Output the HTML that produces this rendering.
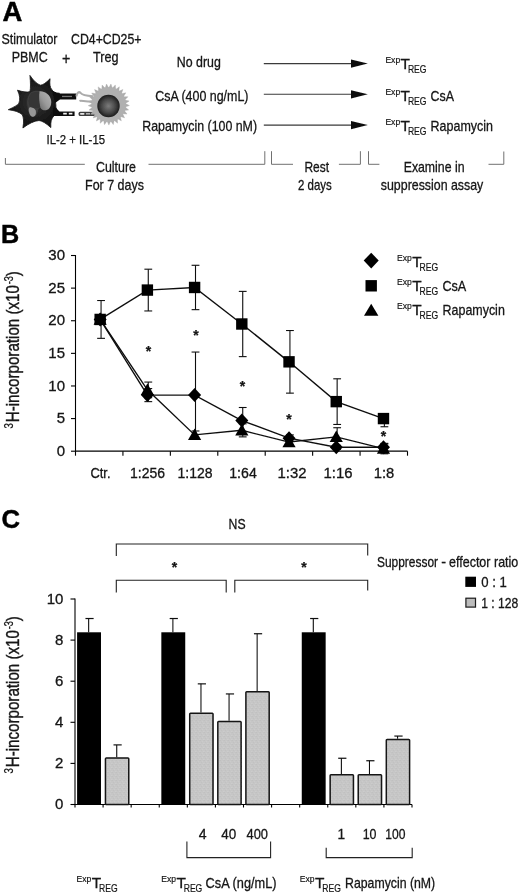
<!DOCTYPE html>
<html lang="en"><head><meta charset="utf-8"><title>Figure</title>
<style>
html,body{margin:0;padding:0;background:#fff;}
body{width:520px;height:895px;overflow:hidden;}
svg{display:block;font-family:"Liberation Sans",sans-serif;}
</style></head><body>
<svg width="520" height="895" viewBox="0 0 520 895">
<defs>
<radialGradient id="gDark" cx="0.5" cy="0.5" r="0.6">
<stop offset="0" stop-color="#343434"/><stop offset="0.55" stop-color="#1d1d1d"/><stop offset="1" stop-color="#0a0a0a"/>
</radialGradient>
<linearGradient id="gNuc" x1="1" y1="0" x2="0" y2="1">
<stop offset="0" stop-color="#b8b8b8"/><stop offset="0.55" stop-color="#9a9a9a"/><stop offset="1" stop-color="#666666"/>
</linearGradient>
<radialGradient id="gTreg" cx="0.5" cy="0.5" r="0.5">
<stop offset="0" stop-color="#7c7c7c"/><stop offset="0.6" stop-color="#484848"/><stop offset="1" stop-color="#1c1c1c"/>
</radialGradient>
<pattern id="pGray" width="4" height="4" patternUnits="userSpaceOnUse">
<rect width="4" height="4" fill="#c6c6c6"/>
<rect x="0" y="0" width="1" height="1" fill="#c0c0c0"/><rect x="2" y="1" width="1" height="1" fill="#cbcbcb"/>
<rect x="1" y="2" width="1" height="1" fill="#c1c1c1"/><rect x="3" y="3" width="1" height="1" fill="#cccccc"/>
<rect x="3" y="0" width="1" height="1" fill="#c3c3c3"/><rect x="0" y="3" width="1" height="1" fill="#c9c9c9"/>
</pattern>
<filter id="soft" x="-2%" y="-2%" width="104%" height="104%"><feGaussianBlur stdDeviation="0.35"/></filter>
</defs>
<rect width="520" height="895" fill="#fff"/>
<g filter="url(#soft)">

<text x="2.4" y="21.3" font-size="27" textLength="19.8" lengthAdjust="spacingAndGlyphs" font-weight="bold" fill="#000" stroke="#000" stroke-width="0.49">A</text>
<text x="1.5" y="44.0" font-size="15" textLength="56.0" lengthAdjust="spacingAndGlyphs" fill="#141414" stroke="#141414" stroke-width="0.3">Stimulator</text>
<text x="71.0" y="44.0" font-size="15" textLength="70.5" lengthAdjust="spacingAndGlyphs" fill="#141414" stroke="#141414" stroke-width="0.3">CD4+CD25+</text>
<text x="11.7" y="61.5" font-size="15" textLength="36.0" lengthAdjust="spacingAndGlyphs" fill="#141414" stroke="#141414" stroke-width="0.3">PBMC</text>
<text x="61.9" y="64.3" font-size="16.5" textLength="8.3" lengthAdjust="spacingAndGlyphs" fill="#141414" stroke="#141414" stroke-width="0.33">+</text>
<text x="93.0" y="61.5" font-size="15" textLength="25.5" lengthAdjust="spacingAndGlyphs" fill="#141414" stroke="#141414" stroke-width="0.3">Treg</text>
<path d="M29.90,75.40 Q35.41,83.49 40.40,85.20 Q44.08,84.93 50.10,78.70 Q49.05,86.67 51.80,89.50 Q52.94,93.05 59.50,93.20 Q54.55,99.91 55.90,105.50 Q55.14,108.56 60.50,113.50 Q54.39,113.14 53.80,116.00 Q50.28,119.32 50.80,127.60 Q43.78,121.05 39.00,120.50 Q31.83,121.17 22.90,128.00 Q24.53,118.79 22.20,114.60 Q18.20,110.91 8.30,109.70 Q16.71,106.07 18.80,103.40 Q21.19,97.80 17.50,90.20 Q26.11,93.01 30.00,91.50 Q31.04,86.46 29.90,75.40 Z" fill="url(#gDark)" stroke="#141414" stroke-width="0.8" stroke-linejoin="round"/>
<path d="M31.5,92 C36,89.5 44,90.5 48,95 C51.5,99 52,104 49.5,107.5 C47.5,110 44,110 42,108.5 C40.5,107.5 38.5,108 38,110.5 C37.5,113.5 36,116.5 33,116.5 C30,116.5 28.5,113 28,109 C27.5,105.5 26.5,103 27.5,99 C28.2,96 29.5,93.2 31.5,92 Z" fill="#3e3e3e"/>
<path d="M39.5,91.3 C45,91 50.5,95 51.2,101 C51.6,105.5 49.5,109.5 46,110.3 C43.5,110.6 41.5,109.6 40.6,108 C39.2,104 38.8,96 39.5,91.3 Z" fill="url(#gNuc)"/>
<path d="M29.5,107.5 C31.5,106.5 34.8,108 35.7,110.5 C36.4,113 35.6,116.4 33.2,116.8 C30.5,117 29.3,113.8 28.8,111 C28.6,109.5 28.8,108.1 29.5,107.5 Z" fill="#969696"/>
<path d="M31.5,93 C34.5,91.8 38,92 39.2,92.6 C38.6,97 38.8,103 40,107.6 C37,108.5 33,108 30,106.5 C27.5,103 28.5,95.5 31.5,93 Z" fill="#343434"/>
<path d="M52,90.5 L58,93.6 L76.2,93.6 L76.2,99.6 L60,99.6 L55,103 Z" fill="#0e0e0e"/>
<rect x="62" y="95.8" width="10" height="1.3" fill="#777"/>
<path d="M76.4,96.4 C76.8,92.4 79,91.2 80.6,93 C82,95 86,95.8 93,96.2" stroke="#ababab" stroke-width="2.1" fill="none"/>
<path d="M79.5,101 C81,100.2 84,101.6 92.5,101.8" stroke="#ababab" stroke-width="2.1" fill="none"/>
<path d="M53.5,106.5 L59.5,111.4 L74.6,111.4 L74.6,116 L58,116 L53,116 Z" fill="#0e0e0e"/>
<rect x="63.2" y="112.8" width="3.6" height="1.7" fill="#f4f4f4"/>
<rect x="68.8" y="112.8" width="3.6" height="1.7" fill="#f4f4f4"/>
<rect x="78.6" y="111.8" width="18.8" height="4.1" rx="1.5" fill="#3c3c3c"/>
<rect x="80" y="112.9" width="4.5" height="1.8" rx="0.9" fill="#e8e8e8"/>
<rect x="86" y="113.1" width="4" height="1.4" fill="#bdbdbd"/>
<rect x="91.5" y="113.1" width="4" height="1.4" fill="#9a9a9a"/>
<path d="M129.37,105.53 L125.19,107.12 L128.67,109.93 L124.25,110.58 L127.04,114.07 L122.58,113.76 L124.56,117.77 L120.27,116.50 L121.33,120.85 L117.42,118.69 L117.53,123.16 L114.17,120.21 L113.31,124.60 L110.66,121.00 L108.89,125.10 L107.07,121.01 L104.46,124.64 L103.57,120.25 L100.23,123.23 L100.30,118.76 L96.40,120.95 L97.43,116.60 L93.16,117.90 L95.10,113.87 L90.64,114.22 L93.40,110.71 L88.97,110.09 L92.43,107.25 L88.24,105.70 L92.22,103.67 L88.46,101.25 L92.79,100.13 L89.63,96.95 L94.10,96.79 L91.70,93.01 L96.10,93.81 L94.57,89.60 L98.70,91.33 L98.11,86.89 L101.77,89.46 L102.14,85.01 L105.16,88.30 L106.49,84.03 L108.73,87.90 L110.94,84.01 L112.30,88.27 L115.30,84.95 L115.71,89.41 L119.35,86.80 L118.79,91.24 L122.90,89.49 L121.41,93.70 L125.80,92.87 L123.43,96.66 L127.90,96.80 L124.78,99.99 L129.11,101.08 L125.37,103.53 Z" fill="#acacac" stroke="#acacac" stroke-width="0.4" stroke-linejoin="round"/>
<circle cx="108.8" cy="104.5" r="17.2" fill="#b0b0b0"/>
<circle cx="108.5" cy="106" r="11.2" fill="url(#gTreg)"/>
<text x="46.5" y="144.1" font-size="12.6" textLength="58.6" lengthAdjust="spacingAndGlyphs" fill="#141414" stroke="#141414" stroke-width="0.25">IL-2 + IL-15</text>
<text x="176.8" y="67.0" font-size="15" textLength="44.0" lengthAdjust="spacingAndGlyphs" fill="#141414" stroke="#141414" stroke-width="0.3">No drug</text>
<text x="155.2" y="100.6" font-size="15" textLength="93.3" lengthAdjust="spacingAndGlyphs" fill="#141414" stroke="#141414" stroke-width="0.3">CsA (400 ng/mL)</text>
<text x="142.3" y="130.8" font-size="15" textLength="114.7" lengthAdjust="spacingAndGlyphs" fill="#141414" stroke="#141414" stroke-width="0.3">Rapamycin (100 nM)</text>
<line x1="263.80" y1="63.60" x2="353.00" y2="63.60" stroke="#3a3a3a" stroke-width="1.1" stroke-linecap="butt"/>
<path d="M367.8,63.6 L351,59.5 L351,67.7 Z" fill="#111"/>
<line x1="263.80" y1="94.30" x2="353.00" y2="94.30" stroke="#3a3a3a" stroke-width="1.1" stroke-linecap="butt"/>
<path d="M367.8,94.3 L351,90.2 L351,98.39999999999999 Z" fill="#111"/>
<line x1="263.80" y1="125.10" x2="353.00" y2="125.10" stroke="#3a3a3a" stroke-width="1.1" stroke-linecap="butt"/>
<path d="M367.8,125.1 L351,121.0 L351,129.2 Z" fill="#111"/>
<text x="385.4" y="63.1" font-size="9.4" textLength="14.8" lengthAdjust="spacingAndGlyphs" fill="#141414" stroke="#141414" stroke-width="0.18">Exp</text>
<text x="400.6" y="69.2" font-size="15.5" textLength="9.4" lengthAdjust="spacingAndGlyphs" fill="#141414" stroke="#141414" stroke-width="0.31">T</text>
<text x="407.9" y="73.2" font-size="10.6" textLength="18.6" lengthAdjust="spacingAndGlyphs" fill="#141414" stroke="#141414" stroke-width="0.2">REG</text>
<text x="385.4" y="94.7" font-size="9.4" textLength="14.8" lengthAdjust="spacingAndGlyphs" fill="#141414" stroke="#141414" stroke-width="0.18">Exp</text>
<text x="400.6" y="100.8" font-size="15.5" textLength="9.4" lengthAdjust="spacingAndGlyphs" fill="#141414" stroke="#141414" stroke-width="0.31">T</text>
<text x="407.9" y="104.8" font-size="10.6" textLength="18.6" lengthAdjust="spacingAndGlyphs" fill="#141414" stroke="#141414" stroke-width="0.2">REG</text>
<text x="430.6" y="100.8" font-size="15.0" textLength="23.4" lengthAdjust="spacingAndGlyphs" fill="#141414" stroke="#141414" stroke-width="0.3">CsA</text>
<text x="385.4" y="125.2" font-size="9.4" textLength="14.8" lengthAdjust="spacingAndGlyphs" fill="#141414" stroke="#141414" stroke-width="0.18">Exp</text>
<text x="400.6" y="131.3" font-size="15.5" textLength="9.4" lengthAdjust="spacingAndGlyphs" fill="#141414" stroke="#141414" stroke-width="0.31">T</text>
<text x="407.9" y="135.3" font-size="10.6" textLength="18.6" lengthAdjust="spacingAndGlyphs" fill="#141414" stroke="#141414" stroke-width="0.2">REG</text>
<text x="430.6" y="131.3" font-size="15.0" textLength="62.4" lengthAdjust="spacingAndGlyphs" fill="#141414" stroke="#141414" stroke-width="0.3">Rapamycin</text>
<path d="M5.4,158 V164.3 H84.8" stroke="#707070" stroke-width="1" fill="none"/>
<path d="M148.5,164.3 H264.8 V151.2" stroke="#707070" stroke-width="1" fill="none"/>
<text x="96.0" y="172.0" font-size="15" textLength="40.0" lengthAdjust="spacingAndGlyphs" fill="#141414" stroke="#141414" stroke-width="0.3">Culture</text>
<text x="85.0" y="189.6" font-size="15" textLength="59.0" lengthAdjust="spacingAndGlyphs" fill="#141414" stroke="#141414" stroke-width="0.3">For 7 days</text>
<path d="M271.5,151.2 V164.3 H293" stroke="#707070" stroke-width="1" fill="none"/>
<path d="M338.9,164.3 H360.4 V151.2" stroke="#707070" stroke-width="1" fill="none"/>
<text x="304.4" y="172.0" font-size="15" textLength="24.6" lengthAdjust="spacingAndGlyphs" fill="#141414" stroke="#141414" stroke-width="0.3">Rest</text>
<text x="298.0" y="189.6" font-size="15" textLength="33.8" lengthAdjust="spacingAndGlyphs" fill="#141414" stroke="#141414" stroke-width="0.3">2 days</text>
<path d="M368.5,151.2 V164.3 H379.4" stroke="#707070" stroke-width="1" fill="none"/>
<path d="M488.5,164.3 H503.8 V151.5" stroke="#707070" stroke-width="1" fill="none"/>
<text x="403.7" y="172.0" font-size="15" textLength="60.8" lengthAdjust="spacingAndGlyphs" fill="#141414" stroke="#141414" stroke-width="0.3">Examine in</text>
<text x="380.8" y="189.6" font-size="15" textLength="102.5" lengthAdjust="spacingAndGlyphs" fill="#141414" stroke="#141414" stroke-width="0.3">suppression assay</text>
<text x="1.0" y="243.2" font-size="26.5" textLength="18.2" lengthAdjust="spacingAndGlyphs" font-weight="bold" fill="#000" stroke="#000" stroke-width="0.48">B</text>
<line x1="75.50" y1="255.01" x2="75.50" y2="451.70" stroke="#050505" stroke-width="1.1" stroke-linecap="butt"/>
<line x1="75.00" y1="451.20" x2="407.50" y2="451.20" stroke="#050505" stroke-width="1.2" stroke-linecap="butt"/>
<line x1="71.00" y1="451.20" x2="75.50" y2="451.20" stroke="#050505" stroke-width="1.1" stroke-linecap="butt"/>
<text x="65.0" y="455.7" font-size="15" text-anchor="end" fill="#141414" stroke="#141414" stroke-width="0.3">0</text>
<line x1="71.00" y1="418.58" x2="75.50" y2="418.58" stroke="#050505" stroke-width="1.1" stroke-linecap="butt"/>
<text x="65.0" y="423.1" font-size="15" text-anchor="end" fill="#141414" stroke="#141414" stroke-width="0.3">5</text>
<line x1="71.00" y1="385.97" x2="75.50" y2="385.97" stroke="#050505" stroke-width="1.1" stroke-linecap="butt"/>
<text x="65.0" y="390.5" font-size="15" text-anchor="end" fill="#141414" stroke="#141414" stroke-width="0.3">10</text>
<line x1="71.00" y1="353.36" x2="75.50" y2="353.36" stroke="#050505" stroke-width="1.1" stroke-linecap="butt"/>
<text x="65.0" y="357.9" font-size="15" text-anchor="end" fill="#141414" stroke="#141414" stroke-width="0.3">15</text>
<line x1="71.00" y1="320.74" x2="75.50" y2="320.74" stroke="#050505" stroke-width="1.1" stroke-linecap="butt"/>
<text x="65.0" y="325.2" font-size="15" text-anchor="end" fill="#141414" stroke="#141414" stroke-width="0.3">20</text>
<line x1="71.00" y1="288.12" x2="75.50" y2="288.12" stroke="#050505" stroke-width="1.1" stroke-linecap="butt"/>
<text x="65.0" y="292.6" font-size="15" text-anchor="end" fill="#141414" stroke="#141414" stroke-width="0.3">25</text>
<line x1="71.00" y1="255.51" x2="75.50" y2="255.51" stroke="#050505" stroke-width="1.1" stroke-linecap="butt"/>
<text x="65.0" y="260.0" font-size="15" text-anchor="end" fill="#141414" stroke="#141414" stroke-width="0.3">30</text>
<line x1="75.50" y1="451.20" x2="75.50" y2="455.70" stroke="#050505" stroke-width="1.1" stroke-linecap="butt"/>
<line x1="122.93" y1="451.20" x2="122.93" y2="455.70" stroke="#050505" stroke-width="1.1" stroke-linecap="butt"/>
<line x1="170.36" y1="451.20" x2="170.36" y2="455.70" stroke="#050505" stroke-width="1.1" stroke-linecap="butt"/>
<line x1="217.79" y1="451.20" x2="217.79" y2="455.70" stroke="#050505" stroke-width="1.1" stroke-linecap="butt"/>
<line x1="265.21" y1="451.20" x2="265.21" y2="455.70" stroke="#050505" stroke-width="1.1" stroke-linecap="butt"/>
<line x1="312.64" y1="451.20" x2="312.64" y2="455.70" stroke="#050505" stroke-width="1.1" stroke-linecap="butt"/>
<line x1="360.07" y1="451.20" x2="360.07" y2="455.70" stroke="#050505" stroke-width="1.1" stroke-linecap="butt"/>
<line x1="407.50" y1="451.20" x2="407.50" y2="455.70" stroke="#050505" stroke-width="1.1" stroke-linecap="butt"/>
<text x="100.5" y="478.2" font-size="15.3" text-anchor="middle" textLength="20.0" lengthAdjust="spacingAndGlyphs" fill="#141414" stroke="#141414" stroke-width="0.31">Ctr.</text>
<text x="147.5" y="478.2" font-size="15.3" text-anchor="middle" textLength="35.0" lengthAdjust="spacingAndGlyphs" fill="#141414" stroke="#141414" stroke-width="0.31">1:256</text>
<text x="195.0" y="478.2" font-size="15.3" text-anchor="middle" textLength="35.0" lengthAdjust="spacingAndGlyphs" fill="#141414" stroke="#141414" stroke-width="0.31">1:128</text>
<text x="243.0" y="478.2" font-size="15.3" text-anchor="middle" textLength="27.5" lengthAdjust="spacingAndGlyphs" fill="#141414" stroke="#141414" stroke-width="0.31">1:64</text>
<text x="292.0" y="478.2" font-size="15.3" text-anchor="middle" textLength="29.0" lengthAdjust="spacingAndGlyphs" fill="#141414" stroke="#141414" stroke-width="0.31">1:32</text>
<text x="338.0" y="478.2" font-size="15.3" text-anchor="middle" textLength="29.0" lengthAdjust="spacingAndGlyphs" fill="#141414" stroke="#141414" stroke-width="0.31">1:16</text>
<text x="384.0" y="478.2" font-size="15.3" text-anchor="middle" textLength="20.5" lengthAdjust="spacingAndGlyphs" fill="#141414" stroke="#141414" stroke-width="0.31">1:8</text>
<g transform="translate(18.7,428.3) rotate(-90)">
<text x="-0.3" y="-6.0" font-size="12" textLength="5.4" lengthAdjust="spacingAndGlyphs" fill="#141414" stroke="#141414" stroke-width="0.23">3</text>
<text x="6.0" y="0.0" font-size="18.5" textLength="137.2" lengthAdjust="spacingAndGlyphs" fill="#141414" stroke="#141414" stroke-width="0.38">H-incorporation (x10</text>
<text x="144.0" y="-6.0" font-size="12" textLength="8.2" lengthAdjust="spacingAndGlyphs" fill="#141414" stroke="#141414" stroke-width="0.23">-3</text>
<text x="152.0" y="0.0" font-size="18.5" textLength="4.9" lengthAdjust="spacingAndGlyphs" fill="#141414" stroke="#141414" stroke-width="0.38">)</text>
</g>
<line x1="101.06" y1="300.52" x2="101.06" y2="338.35" stroke="#111" stroke-width="1.1" stroke-linecap="butt"/>
<line x1="97.16" y1="300.52" x2="104.96" y2="300.52" stroke="#111" stroke-width="1.1" stroke-linecap="butt"/>
<line x1="97.16" y1="338.35" x2="104.96" y2="338.35" stroke="#111" stroke-width="1.1" stroke-linecap="butt"/>
<line x1="148.28" y1="269.21" x2="148.28" y2="310.96" stroke="#111" stroke-width="1.1" stroke-linecap="butt"/>
<line x1="144.38" y1="269.21" x2="152.18" y2="269.21" stroke="#111" stroke-width="1.1" stroke-linecap="butt"/>
<line x1="144.38" y1="310.96" x2="152.18" y2="310.96" stroke="#111" stroke-width="1.1" stroke-linecap="butt"/>
<line x1="148.28" y1="388.58" x2="148.28" y2="401.63" stroke="#111" stroke-width="1.1" stroke-linecap="butt"/>
<line x1="144.38" y1="388.58" x2="152.18" y2="388.58" stroke="#111" stroke-width="1.1" stroke-linecap="butt"/>
<line x1="144.38" y1="401.63" x2="152.18" y2="401.63" stroke="#111" stroke-width="1.1" stroke-linecap="butt"/>
<line x1="148.28" y1="382.06" x2="148.28" y2="397.71" stroke="#111" stroke-width="1.1" stroke-linecap="butt"/>
<line x1="144.38" y1="382.06" x2="152.18" y2="382.06" stroke="#111" stroke-width="1.1" stroke-linecap="butt"/>
<line x1="144.38" y1="397.71" x2="152.18" y2="397.71" stroke="#111" stroke-width="1.1" stroke-linecap="butt"/>
<line x1="195.50" y1="265.29" x2="195.50" y2="309.65" stroke="#111" stroke-width="1.1" stroke-linecap="butt"/>
<line x1="191.60" y1="265.29" x2="199.40" y2="265.29" stroke="#111" stroke-width="1.1" stroke-linecap="butt"/>
<line x1="191.60" y1="309.65" x2="199.40" y2="309.65" stroke="#111" stroke-width="1.1" stroke-linecap="butt"/>
<line x1="195.50" y1="352.05" x2="195.50" y2="438.15" stroke="#111" stroke-width="1.1" stroke-linecap="butt"/>
<line x1="191.60" y1="352.05" x2="199.40" y2="352.05" stroke="#111" stroke-width="1.1" stroke-linecap="butt"/>
<line x1="191.60" y1="438.15" x2="199.40" y2="438.15" stroke="#111" stroke-width="1.1" stroke-linecap="butt"/>
<line x1="195.50" y1="430.98" x2="195.50" y2="438.81" stroke="#111" stroke-width="1.1" stroke-linecap="butt"/>
<line x1="191.60" y1="430.98" x2="199.40" y2="430.98" stroke="#111" stroke-width="1.1" stroke-linecap="butt"/>
<line x1="191.60" y1="438.81" x2="199.40" y2="438.81" stroke="#111" stroke-width="1.1" stroke-linecap="butt"/>
<line x1="242.72" y1="291.39" x2="242.72" y2="356.62" stroke="#111" stroke-width="1.1" stroke-linecap="butt"/>
<line x1="238.82" y1="291.39" x2="246.62" y2="291.39" stroke="#111" stroke-width="1.1" stroke-linecap="butt"/>
<line x1="238.82" y1="356.62" x2="246.62" y2="356.62" stroke="#111" stroke-width="1.1" stroke-linecap="butt"/>
<line x1="242.72" y1="407.50" x2="242.72" y2="433.59" stroke="#111" stroke-width="1.1" stroke-linecap="butt"/>
<line x1="238.82" y1="407.50" x2="246.62" y2="407.50" stroke="#111" stroke-width="1.1" stroke-linecap="butt"/>
<line x1="238.82" y1="433.59" x2="246.62" y2="433.59" stroke="#111" stroke-width="1.1" stroke-linecap="butt"/>
<line x1="242.72" y1="423.80" x2="242.72" y2="436.85" stroke="#111" stroke-width="1.1" stroke-linecap="butt"/>
<line x1="238.82" y1="423.80" x2="246.62" y2="423.80" stroke="#111" stroke-width="1.1" stroke-linecap="butt"/>
<line x1="238.82" y1="436.85" x2="246.62" y2="436.85" stroke="#111" stroke-width="1.1" stroke-linecap="butt"/>
<line x1="289.94" y1="330.52" x2="289.94" y2="393.15" stroke="#111" stroke-width="1.1" stroke-linecap="butt"/>
<line x1="286.04" y1="330.52" x2="293.84" y2="330.52" stroke="#111" stroke-width="1.1" stroke-linecap="butt"/>
<line x1="286.04" y1="393.15" x2="293.84" y2="393.15" stroke="#111" stroke-width="1.1" stroke-linecap="butt"/>
<line x1="289.94" y1="434.89" x2="289.94" y2="441.42" stroke="#111" stroke-width="1.1" stroke-linecap="butt"/>
<line x1="286.04" y1="434.89" x2="293.84" y2="434.89" stroke="#111" stroke-width="1.1" stroke-linecap="butt"/>
<line x1="286.04" y1="441.42" x2="293.84" y2="441.42" stroke="#111" stroke-width="1.1" stroke-linecap="butt"/>
<line x1="289.94" y1="438.81" x2="289.94" y2="445.33" stroke="#111" stroke-width="1.1" stroke-linecap="butt"/>
<line x1="286.04" y1="438.81" x2="293.84" y2="438.81" stroke="#111" stroke-width="1.1" stroke-linecap="butt"/>
<line x1="286.04" y1="445.33" x2="293.84" y2="445.33" stroke="#111" stroke-width="1.1" stroke-linecap="butt"/>
<line x1="337.16" y1="378.79" x2="337.16" y2="424.46" stroke="#111" stroke-width="1.1" stroke-linecap="butt"/>
<line x1="333.26" y1="378.79" x2="341.06" y2="378.79" stroke="#111" stroke-width="1.1" stroke-linecap="butt"/>
<line x1="333.26" y1="424.46" x2="341.06" y2="424.46" stroke="#111" stroke-width="1.1" stroke-linecap="butt"/>
<line x1="337.16" y1="445.33" x2="337.16" y2="449.24" stroke="#111" stroke-width="1.1" stroke-linecap="butt"/>
<line x1="333.26" y1="445.33" x2="341.06" y2="445.33" stroke="#111" stroke-width="1.1" stroke-linecap="butt"/>
<line x1="333.26" y1="449.24" x2="341.06" y2="449.24" stroke="#111" stroke-width="1.1" stroke-linecap="butt"/>
<line x1="337.16" y1="427.72" x2="337.16" y2="445.98" stroke="#111" stroke-width="1.1" stroke-linecap="butt"/>
<line x1="333.26" y1="427.72" x2="341.06" y2="427.72" stroke="#111" stroke-width="1.1" stroke-linecap="butt"/>
<line x1="333.26" y1="445.98" x2="341.06" y2="445.98" stroke="#111" stroke-width="1.1" stroke-linecap="butt"/>
<line x1="384.38" y1="418.58" x2="384.38" y2="426.74" stroke="#111" stroke-width="1.1" stroke-linecap="butt"/>
<line x1="380.48" y1="426.74" x2="388.28" y2="426.74" stroke="#111" stroke-width="1.1" stroke-linecap="butt"/>
<line x1="384.38" y1="444.02" x2="384.38" y2="450.55" stroke="#111" stroke-width="1.1" stroke-linecap="butt"/>
<line x1="380.48" y1="444.02" x2="388.28" y2="444.02" stroke="#111" stroke-width="1.1" stroke-linecap="butt"/>
<line x1="380.48" y1="450.55" x2="388.28" y2="450.55" stroke="#111" stroke-width="1.1" stroke-linecap="butt"/>
<line x1="384.38" y1="443.37" x2="384.38" y2="453.81" stroke="#111" stroke-width="1.1" stroke-linecap="butt"/>
<line x1="380.48" y1="443.37" x2="388.28" y2="443.37" stroke="#111" stroke-width="1.1" stroke-linecap="butt"/>
<line x1="380.48" y1="453.81" x2="388.28" y2="453.81" stroke="#111" stroke-width="1.1" stroke-linecap="butt"/>
<path d="M100.16,319.44 L147.38,290.08 L194.60,287.47 L241.82,324.00 L289.04,361.83 L336.26,401.63 L383.48,418.58" stroke="#111" stroke-width="1.4" fill="none"/>
<path d="M100.16,319.44 L147.38,395.10 L194.60,395.10 L241.82,420.54 L289.04,438.15 L336.26,447.29 L383.48,447.29" stroke="#111" stroke-width="1.4" fill="none"/>
<path d="M100.16,319.44 L147.38,389.88 L194.60,434.89 L241.82,430.33 L289.04,442.07 L336.26,436.85 L383.48,448.59" stroke="#111" stroke-width="1.4" fill="none"/>
<path d="M100.16,312.44 L106.66,319.44 L100.16,326.44 L93.66,319.44 Z" fill="#000"/>
<path d="M147.38,388.10 L153.88,395.10 L147.38,402.10 L140.88,395.10 Z" fill="#000"/>
<path d="M194.60,388.10 L201.10,395.10 L194.60,402.10 L188.10,395.10 Z" fill="#000"/>
<path d="M241.82,413.54 L248.32,420.54 L241.82,427.54 L235.32,420.54 Z" fill="#000"/>
<path d="M289.04,431.15 L295.54,438.15 L289.04,445.15 L282.54,438.15 Z" fill="#000"/>
<path d="M336.26,440.29 L342.76,447.29 L336.26,454.29 L329.76,447.29 Z" fill="#000"/>
<path d="M383.48,440.29 L389.98,447.29 L383.48,454.29 L376.98,447.29 Z" fill="#000"/>
<path d="M100.16,313.04 L106.76,324.64 L93.56,324.64 Z" fill="#000"/>
<path d="M147.38,383.48 L153.98,395.08 L140.78,395.08 Z" fill="#000"/>
<path d="M194.60,428.49 L201.20,440.09 L188.00,440.09 Z" fill="#000"/>
<path d="M241.82,423.93 L248.42,435.53 L235.22,435.53 Z" fill="#000"/>
<path d="M289.04,435.67 L295.64,447.27 L282.44,447.27 Z" fill="#000"/>
<path d="M336.26,430.45 L342.86,442.05 L329.66,442.05 Z" fill="#000"/>
<path d="M383.48,442.19 L390.08,453.79 L376.88,453.79 Z" fill="#000"/>
<rect x="94.46" y="313.74" width="11.4" height="11.4" fill="#000"/>
<rect x="141.68" y="284.38" width="11.4" height="11.4" fill="#000"/>
<rect x="188.90" y="281.77" width="11.4" height="11.4" fill="#000"/>
<rect x="236.12" y="318.30" width="11.4" height="11.4" fill="#000"/>
<rect x="283.34" y="356.13" width="11.4" height="11.4" fill="#000"/>
<rect x="330.56" y="395.93" width="11.4" height="11.4" fill="#000"/>
<rect x="377.78" y="412.88" width="11.4" height="11.4" fill="#000"/>
<text x="148.5" y="355.8" font-size="14" text-anchor="middle" font-weight="bold" fill="#141414" stroke="#141414" stroke-width="0.25">*</text>
<text x="196.0" y="339.8" font-size="14" text-anchor="middle" font-weight="bold" fill="#141414" stroke="#141414" stroke-width="0.25">*</text>
<text x="242.5" y="391.3" font-size="14" text-anchor="middle" font-weight="bold" fill="#141414" stroke="#141414" stroke-width="0.25">*</text>
<text x="289.0" y="423.8" font-size="14" text-anchor="middle" font-weight="bold" fill="#141414" stroke="#141414" stroke-width="0.25">*</text>
<text x="383.5" y="440.8" font-size="14" text-anchor="middle" font-weight="bold" fill="#141414" stroke="#141414" stroke-width="0.25">*</text>
<path d="M371.2,252.8 L378.7,260.6 L371.2,268.40000000000003 L363.7,260.6 Z" fill="#000"/>
<rect x="365.5" y="280.1" width="11.4" height="11.4" fill="#000"/>
<path d="M371.2,303.7 L378.4,315.8 L364.0,315.8 Z" fill="#000"/>
<text x="397.0" y="260.9" font-size="9.4" textLength="14.8" lengthAdjust="spacingAndGlyphs" fill="#141414" stroke="#141414" stroke-width="0.18">Exp</text>
<text x="412.2" y="267.0" font-size="15.5" textLength="9.4" lengthAdjust="spacingAndGlyphs" fill="#141414" stroke="#141414" stroke-width="0.31">T</text>
<text x="419.5" y="271.0" font-size="10.6" textLength="18.6" lengthAdjust="spacingAndGlyphs" fill="#141414" stroke="#141414" stroke-width="0.2">REG</text>
<text x="397.0" y="284.5" font-size="9.4" textLength="14.8" lengthAdjust="spacingAndGlyphs" fill="#141414" stroke="#141414" stroke-width="0.18">Exp</text>
<text x="412.2" y="290.6" font-size="15.5" textLength="9.4" lengthAdjust="spacingAndGlyphs" fill="#141414" stroke="#141414" stroke-width="0.31">T</text>
<text x="419.5" y="294.6" font-size="10.6" textLength="18.6" lengthAdjust="spacingAndGlyphs" fill="#141414" stroke="#141414" stroke-width="0.2">REG</text>
<text x="442.4" y="290.6" font-size="15.0" textLength="23.9" lengthAdjust="spacingAndGlyphs" fill="#141414" stroke="#141414" stroke-width="0.3">CsA</text>
<text x="397.0" y="309.1" font-size="9.4" textLength="14.8" lengthAdjust="spacingAndGlyphs" fill="#141414" stroke="#141414" stroke-width="0.18">Exp</text>
<text x="412.2" y="315.2" font-size="15.5" textLength="9.4" lengthAdjust="spacingAndGlyphs" fill="#141414" stroke="#141414" stroke-width="0.31">T</text>
<text x="419.5" y="319.2" font-size="10.6" textLength="18.6" lengthAdjust="spacingAndGlyphs" fill="#141414" stroke="#141414" stroke-width="0.2">REG</text>
<text x="442.6" y="315.2" font-size="15.0" textLength="62.2" lengthAdjust="spacingAndGlyphs" fill="#141414" stroke="#141414" stroke-width="0.3">Rapamycin</text>
<text x="1.5" y="528.0" font-size="26.5" textLength="18.5" lengthAdjust="spacingAndGlyphs" font-weight="bold" fill="#000" stroke="#000" stroke-width="0.48">C</text>
<line x1="75.00" y1="598.50" x2="75.00" y2="805.00" stroke="#050505" stroke-width="1.1" stroke-linecap="butt"/>
<line x1="74.50" y1="804.50" x2="412.00" y2="804.50" stroke="#050505" stroke-width="1.2" stroke-linecap="butt"/>
<line x1="70.50" y1="804.50" x2="75.00" y2="804.50" stroke="#050505" stroke-width="1.1" stroke-linecap="butt"/>
<text x="63.4" y="809.1" font-size="15" text-anchor="end" fill="#141414" stroke="#141414" stroke-width="0.3">0</text>
<line x1="70.50" y1="763.40" x2="75.00" y2="763.40" stroke="#050505" stroke-width="1.1" stroke-linecap="butt"/>
<text x="63.4" y="768.0" font-size="15" text-anchor="end" fill="#141414" stroke="#141414" stroke-width="0.3">2</text>
<line x1="70.50" y1="722.30" x2="75.00" y2="722.30" stroke="#050505" stroke-width="1.1" stroke-linecap="butt"/>
<text x="63.4" y="726.9" font-size="15" text-anchor="end" fill="#141414" stroke="#141414" stroke-width="0.3">4</text>
<line x1="70.50" y1="681.20" x2="75.00" y2="681.20" stroke="#050505" stroke-width="1.1" stroke-linecap="butt"/>
<text x="63.4" y="685.8" font-size="15" text-anchor="end" fill="#141414" stroke="#141414" stroke-width="0.3">6</text>
<line x1="70.50" y1="640.10" x2="75.00" y2="640.10" stroke="#050505" stroke-width="1.1" stroke-linecap="butt"/>
<text x="63.4" y="644.7" font-size="15" text-anchor="end" fill="#141414" stroke="#141414" stroke-width="0.3">8</text>
<line x1="70.50" y1="599.00" x2="75.00" y2="599.00" stroke="#050505" stroke-width="1.1" stroke-linecap="butt"/>
<text x="63.4" y="603.6" font-size="15" text-anchor="end" fill="#141414" stroke="#141414" stroke-width="0.3">10</text>
<line x1="75.00" y1="804.50" x2="75.00" y2="807.50" stroke="#050505" stroke-width="1.1" stroke-linecap="butt"/>
<line x1="103.08" y1="804.50" x2="103.08" y2="807.50" stroke="#050505" stroke-width="1.1" stroke-linecap="butt"/>
<line x1="131.17" y1="804.50" x2="131.17" y2="807.50" stroke="#050505" stroke-width="1.1" stroke-linecap="butt"/>
<line x1="159.25" y1="804.50" x2="159.25" y2="807.50" stroke="#050505" stroke-width="1.1" stroke-linecap="butt"/>
<line x1="187.33" y1="804.50" x2="187.33" y2="807.50" stroke="#050505" stroke-width="1.1" stroke-linecap="butt"/>
<line x1="215.42" y1="804.50" x2="215.42" y2="807.50" stroke="#050505" stroke-width="1.1" stroke-linecap="butt"/>
<line x1="243.50" y1="804.50" x2="243.50" y2="807.50" stroke="#050505" stroke-width="1.1" stroke-linecap="butt"/>
<line x1="271.58" y1="804.50" x2="271.58" y2="807.50" stroke="#050505" stroke-width="1.1" stroke-linecap="butt"/>
<line x1="299.67" y1="804.50" x2="299.67" y2="807.50" stroke="#050505" stroke-width="1.1" stroke-linecap="butt"/>
<line x1="327.75" y1="804.50" x2="327.75" y2="807.50" stroke="#050505" stroke-width="1.1" stroke-linecap="butt"/>
<line x1="355.83" y1="804.50" x2="355.83" y2="807.50" stroke="#050505" stroke-width="1.1" stroke-linecap="butt"/>
<line x1="383.92" y1="804.50" x2="383.92" y2="807.50" stroke="#050505" stroke-width="1.1" stroke-linecap="butt"/>
<line x1="412.00" y1="804.50" x2="412.00" y2="807.50" stroke="#050505" stroke-width="1.1" stroke-linecap="butt"/>
<line x1="88.64" y1="618.52" x2="88.64" y2="632.29" stroke="#111" stroke-width="1.1" stroke-linecap="butt"/>
<line x1="85.44" y1="618.52" x2="93.64" y2="618.52" stroke="#111" stroke-width="1.2" stroke-linecap="butt"/>
<rect x="77.09" y="632.29" width="23.9" height="172.21" fill="#000"/>
<line x1="116.72" y1="744.90" x2="116.72" y2="757.24" stroke="#111" stroke-width="1.1" stroke-linecap="butt"/>
<line x1="113.53" y1="744.90" x2="121.72" y2="744.90" stroke="#111" stroke-width="1.2" stroke-linecap="butt"/>
<rect x="105.48" y="757.94" width="23.3" height="46.56" fill="url(#pGray)" stroke="#121212" stroke-width="1.5" rx="0.8"/>
<line x1="172.89" y1="618.52" x2="172.89" y2="632.29" stroke="#111" stroke-width="1.1" stroke-linecap="butt"/>
<line x1="169.69" y1="618.52" x2="177.89" y2="618.52" stroke="#111" stroke-width="1.2" stroke-linecap="butt"/>
<rect x="161.34" y="632.29" width="23.9" height="172.21" fill="#000"/>
<line x1="200.97" y1="683.87" x2="200.97" y2="712.44" stroke="#111" stroke-width="1.1" stroke-linecap="butt"/>
<line x1="197.78" y1="683.87" x2="205.97" y2="683.87" stroke="#111" stroke-width="1.2" stroke-linecap="butt"/>
<rect x="189.72" y="713.14" width="23.3" height="91.36" fill="url(#pGray)" stroke="#121212" stroke-width="1.5" rx="0.8"/>
<line x1="229.06" y1="693.94" x2="229.06" y2="720.86" stroke="#111" stroke-width="1.1" stroke-linecap="butt"/>
<line x1="225.86" y1="693.94" x2="234.06" y2="693.94" stroke="#111" stroke-width="1.2" stroke-linecap="butt"/>
<rect x="217.81" y="721.56" width="23.3" height="82.94" fill="url(#pGray)" stroke="#121212" stroke-width="1.5" rx="0.8"/>
<line x1="257.14" y1="633.73" x2="257.14" y2="691.06" stroke="#111" stroke-width="1.1" stroke-linecap="butt"/>
<line x1="253.94" y1="633.73" x2="262.14" y2="633.73" stroke="#111" stroke-width="1.2" stroke-linecap="butt"/>
<rect x="245.89" y="691.76" width="23.3" height="112.74" fill="url(#pGray)" stroke="#121212" stroke-width="1.5" rx="0.8"/>
<line x1="313.31" y1="618.52" x2="313.31" y2="632.29" stroke="#111" stroke-width="1.1" stroke-linecap="butt"/>
<line x1="310.11" y1="618.52" x2="318.31" y2="618.52" stroke="#111" stroke-width="1.2" stroke-linecap="butt"/>
<rect x="301.76" y="632.29" width="23.9" height="172.21" fill="#000"/>
<line x1="341.39" y1="758.26" x2="341.39" y2="774.09" stroke="#111" stroke-width="1.1" stroke-linecap="butt"/>
<line x1="338.19" y1="758.26" x2="346.39" y2="758.26" stroke="#111" stroke-width="1.2" stroke-linecap="butt"/>
<rect x="330.14" y="774.79" width="23.3" height="29.71" fill="url(#pGray)" stroke="#121212" stroke-width="1.5" rx="0.8"/>
<line x1="369.48" y1="760.73" x2="369.48" y2="774.09" stroke="#111" stroke-width="1.1" stroke-linecap="butt"/>
<line x1="366.27" y1="760.73" x2="374.48" y2="760.73" stroke="#111" stroke-width="1.2" stroke-linecap="butt"/>
<rect x="358.22" y="774.79" width="23.3" height="29.71" fill="url(#pGray)" stroke="#121212" stroke-width="1.5" rx="0.8"/>
<line x1="397.56" y1="736.07" x2="397.56" y2="738.74" stroke="#111" stroke-width="1.1" stroke-linecap="butt"/>
<line x1="394.36" y1="736.07" x2="402.56" y2="736.07" stroke="#111" stroke-width="1.2" stroke-linecap="butt"/>
<rect x="386.31" y="739.44" width="23.3" height="65.06" fill="url(#pGray)" stroke="#121212" stroke-width="1.5" rx="0.8"/>
<path d="M116.3,556 V544 H367.7 V555.5" stroke="#222" stroke-width="1.1" fill="none"/>
<path d="M116.3,592.5 V580.3 H226.2 V592.5" stroke="#222" stroke-width="1.1" fill="none"/>
<path d="M234.8,592.5 V580.3 H367.7 V590.5" stroke="#222" stroke-width="1.1" fill="none"/>
<text x="228.6" y="528.5" font-size="15" textLength="17.0" lengthAdjust="spacingAndGlyphs" fill="#141414" stroke="#141414" stroke-width="0.3">NS</text>
<text x="174.6" y="572.2" font-size="14" text-anchor="middle" font-weight="bold" fill="#141414" stroke="#141414" stroke-width="0.25">*</text>
<text x="303.9" y="572.2" font-size="14" text-anchor="middle" font-weight="bold" fill="#141414" stroke="#141414" stroke-width="0.25">*</text>
<text x="377.0" y="567.0" font-size="15" textLength="61.0" lengthAdjust="spacingAndGlyphs" fill="#141414" stroke="#141414" stroke-width="0.3">Suppressor</text>
<text x="441.2" y="567.0" font-size="15" textLength="4.8" lengthAdjust="spacingAndGlyphs" fill="#141414" stroke="#141414" stroke-width="0.3">-</text>
<text x="449.0" y="567.0" font-size="15" textLength="69.3" lengthAdjust="spacingAndGlyphs" fill="#141414" stroke="#141414" stroke-width="0.3">effector ratio</text>
<rect x="465.3" y="576.7" width="10.7" height="10.2" fill="#000"/>
<text x="481.2" y="587.3" font-size="15" textLength="25.6" lengthAdjust="spacingAndGlyphs" fill="#141414" stroke="#141414" stroke-width="0.3">0 : 1</text>
<rect x="465.9" y="598.2" width="9.6" height="8.9" fill="#bcbcbc" stroke="#1a1a1a" stroke-width="1.2"/>
<text x="481.2" y="608.2" font-size="15" textLength="37.1" lengthAdjust="spacingAndGlyphs" fill="#141414" stroke="#141414" stroke-width="0.3">1 : 128</text>
<g transform="translate(18.7,773.3) rotate(-90)">
<text x="-0.3" y="-6.0" font-size="12" textLength="5.4" lengthAdjust="spacingAndGlyphs" fill="#141414" stroke="#141414" stroke-width="0.23">3</text>
<text x="6.0" y="0.0" font-size="18.5" textLength="137.2" lengthAdjust="spacingAndGlyphs" fill="#141414" stroke="#141414" stroke-width="0.38">H-incorporation (x10</text>
<text x="144.0" y="-6.0" font-size="12" textLength="8.2" lengthAdjust="spacingAndGlyphs" fill="#141414" stroke="#141414" stroke-width="0.23">-3</text>
<text x="152.0" y="0.0" font-size="18.5" textLength="4.9" lengthAdjust="spacingAndGlyphs" fill="#141414" stroke="#141414" stroke-width="0.38">)</text>
</g>
<text x="202.6" y="838.5" font-size="15.5" text-anchor="middle" textLength="7.8" lengthAdjust="spacingAndGlyphs" fill="#141414" stroke="#141414" stroke-width="0.31">4</text>
<text x="228.8" y="838.5" font-size="15.5" text-anchor="middle" textLength="15.0" lengthAdjust="spacingAndGlyphs" fill="#141414" stroke="#141414" stroke-width="0.31">40</text>
<text x="257.3" y="838.5" font-size="15.5" text-anchor="middle" textLength="21.5" lengthAdjust="spacingAndGlyphs" fill="#141414" stroke="#141414" stroke-width="0.31">400</text>
<path d="M186.9,841.6 V857.6 H270.6 V841.6" stroke="#222" stroke-width="1.1" fill="none"/>
<text x="341.3" y="838.5" font-size="15.5" text-anchor="middle" textLength="7.6" lengthAdjust="spacingAndGlyphs" fill="#141414" stroke="#141414" stroke-width="0.31">1</text>
<text x="369.6" y="838.5" font-size="15.5" text-anchor="middle" textLength="13.8" lengthAdjust="spacingAndGlyphs" fill="#141414" stroke="#141414" stroke-width="0.31">10</text>
<text x="395.3" y="838.5" font-size="15.5" text-anchor="middle" textLength="20.2" lengthAdjust="spacingAndGlyphs" fill="#141414" stroke="#141414" stroke-width="0.31">100</text>
<path d="M326.2,847.8 V857.6 H412.2 V847.8" stroke="#222" stroke-width="1.1" fill="none"/>
<text x="76.6" y="882.3" font-size="9.4" textLength="14.8" lengthAdjust="spacingAndGlyphs" fill="#141414" stroke="#141414" stroke-width="0.18">Exp</text>
<text x="91.8" y="888.4" font-size="15.5" textLength="9.4" lengthAdjust="spacingAndGlyphs" fill="#141414" stroke="#141414" stroke-width="0.31">T</text>
<text x="99.1" y="892.4" font-size="10.6" textLength="18.6" lengthAdjust="spacingAndGlyphs" fill="#141414" stroke="#141414" stroke-width="0.2">REG</text>
<text x="161.2" y="882.3" font-size="9.4" textLength="14.8" lengthAdjust="spacingAndGlyphs" fill="#141414" stroke="#141414" stroke-width="0.18">Exp</text>
<text x="176.4" y="888.4" font-size="15.5" textLength="9.4" lengthAdjust="spacingAndGlyphs" fill="#141414" stroke="#141414" stroke-width="0.31">T</text>
<text x="183.7" y="892.4" font-size="10.6" textLength="18.6" lengthAdjust="spacingAndGlyphs" fill="#141414" stroke="#141414" stroke-width="0.2">REG</text>
<text x="205.6" y="888.4" font-size="15.0" textLength="71.0" lengthAdjust="spacingAndGlyphs" fill="#141414" stroke="#141414" stroke-width="0.3">CsA (ng/mL)</text>
<text x="299.8" y="882.3" font-size="9.4" textLength="14.8" lengthAdjust="spacingAndGlyphs" fill="#141414" stroke="#141414" stroke-width="0.18">Exp</text>
<text x="315.0" y="888.4" font-size="15.5" textLength="9.4" lengthAdjust="spacingAndGlyphs" fill="#141414" stroke="#141414" stroke-width="0.31">T</text>
<text x="322.3" y="892.4" font-size="10.6" textLength="18.6" lengthAdjust="spacingAndGlyphs" fill="#141414" stroke="#141414" stroke-width="0.2">REG</text>
<text x="345.0" y="888.4" font-size="15.0" textLength="90.2" lengthAdjust="spacingAndGlyphs" fill="#141414" stroke="#141414" stroke-width="0.3">Rapamycin (nM)</text>
</g>
</svg>
</body></html>
